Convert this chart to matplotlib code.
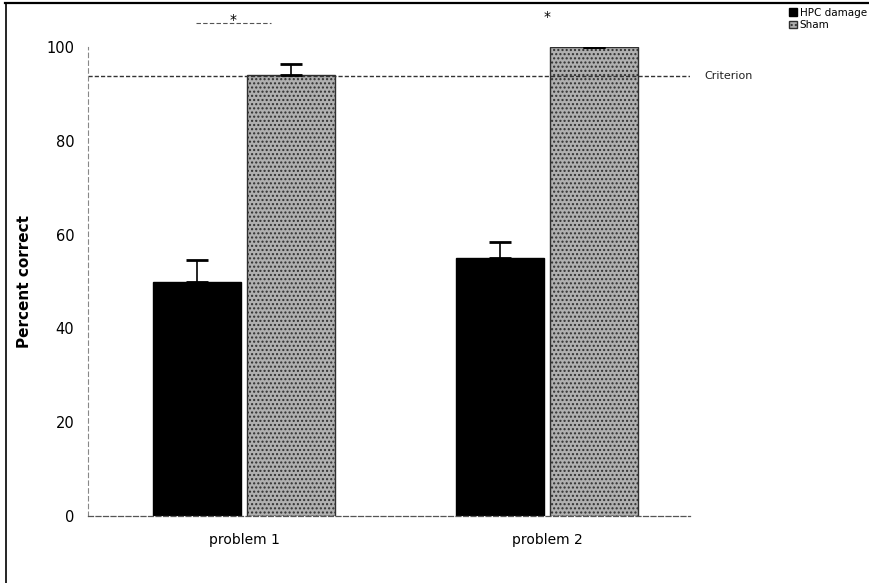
import matplotlib
matplotlib.use("Agg")
import matplotlib.pyplot as plt
from matplotlib.lines import Line2D
import numpy as np

categories = ["problem 1", "problem 2"]
hpc_values = [50, 55]
hpc_err = [4.5, 3.4]
sham_values = [94, 100]
sham_err = [2.3, 0]
criterion = 93.75
yticks = [0, 20, 40, 60, 80, 100]

fig = plt.figure(figsize=(8.69, 5.83), dpi=100)
ax = fig.add_axes([0.1013, 0.1149, 0.6927, 0.8045])

x = np.arange(len(categories))
w = 0.29
zeros = [0] * len(categories)
ax.bar(x - 0.155, hpc_values, w, color="black", edgecolor="black", label="HPC damage",
       yerr=[zeros, hpc_err], error_kw=dict(ecolor="black", capsize=8, elinewidth=1.2, capthick=2))
ax.bar(x + 0.155, sham_values, w, color="#b0b0b0", edgecolor="#303030", hatch="....",
       linewidth=1.0, label="Sham",
       yerr=[zeros, sham_err], error_kw=dict(ecolor="black", capsize=8, elinewidth=1.2, capthick=2))

ax.axhline(criterion, xmin=0, xmax=1, color="#333333", ls=(0, (3, 1.5)), lw=1.0, zorder=1)
ax.text(1.518, criterion, "Criterion", fontsize=8, va="center", ha="left", color="#222222")

ax.set_xlim(-0.515, 1.472)
ax.set_ylim(0, 100)
ax.set_yticks(yticks)
ax.set_xticks(x)
ax.set_xticklabels(categories, fontsize=10)
ax.tick_params(axis="y", length=0, labelsize=10.5, pad=10)
ax.tick_params(axis="x", length=0, labelsize=10, pad=12)
ax.set_ylabel("Percent correct", fontsize=11, fontweight="bold", labelpad=10)

for s in ["top", "right"]:
    ax.spines[s].set_visible(False)
ax.spines["left"].set_linestyle((0, (4, 3)))
ax.spines["left"].set_color("#888888")
ax.spines["left"].set_linewidth(0.8)
ax.spines["bottom"].set_linestyle((0, (4, 2)))
ax.spines["bottom"].set_color("#555555")
ax.spines["bottom"].set_linewidth(0.9)

# significance markers
ax.plot([-0.16, 0.09], [105.1, 105.1], color="#555555", lw=0.8, ls=(0, (4, 2)), clip_on=False)
ax.text(-0.036, 105.8, "*", fontsize=10, ha="center", va="center", clip_on=False)
ax.text(1.0, 106.5, "*", fontsize=10, ha="center", va="center", clip_on=False)

ax.legend(loc="upper left", bbox_to_anchor=(1.158, 1.093), frameon=False, fontsize=7.5,
          handlelength=0.7, handleheight=0.7, handletextpad=0.3, labelspacing=0.25,
          borderaxespad=0)

# figure frame: top and left edges
fig.add_artist(Line2D([0.006, 1.0], [0.995, 0.995], transform=fig.transFigure, color="black", lw=1.6))
fig.add_artist(Line2D([0.007, 0.007], [0.0, 0.995], transform=fig.transFigure, color="black", lw=1.2))

fig.savefig("out.png", dpi=100)
